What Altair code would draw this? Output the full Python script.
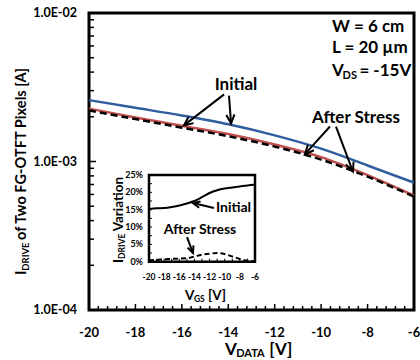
import math
import altair as alt
import pandas as pd

# ---------------- data ----------------
V_DATA = [-20, -18, -16, -14, -12, -10, -8, -6]
I_INITIAL_A = [2.59e-3, 2.30e-3, 2.04e-3, 1.78e-3, 1.50e-3, 1.22e-3, 9.4e-4, 7.2e-4]   # blue
I_INITIAL_B = [2.27e-3, 1.98e-3, 1.74e-3, 1.53e-3, 1.30e-3, 1.07e-3, 8.1e-4, 5.9e-4]   # red
I_STRESS = [2.21e-3, 1.93e-3, 1.69e-3, 1.48e-3, 1.26e-3, 1.03e-3, 7.9e-4, 5.8e-4]      # black dashed

X_TICKS = [-20, -18, -16, -14, -12, -10, -8, -6]
Y_TICKS = [1e-4, 1e-3, 1e-2]
Y_TICK_LABELS = ["1.0E-04", "1.0E-03", "1.0E-02"]
Y_MINOR = [2e-4, 3e-4, 4e-4, 5e-4, 6e-4, 7e-4, 8e-4, 9e-4,
           2e-3, 3e-3, 4e-3, 5e-3, 6e-3, 7e-3, 8e-3, 9e-3]
X_MINOR = [round(-20 + 0.4 * k, 1) for k in range(1, 35) if k % 5 != 0]

INSET_V = [-20, -19, -18, -17, -16, -15, -14, -13, -12, -11, -10, -9, -8, -7, -6]
INSET_INITIAL = [15.2, 15.4, 15.5, 15.8, 16.2, 16.8, 17.5, 18.6, 19.8, 20.6, 21.1, 21.4, 21.7, 22.0, 22.2]
INSET_STRESS = [0.4, 0.5, 0.7, 0.8, 0.9, 1.0, 1.5, 2.0, 2.3, 2.5, 2.2, 1.5, 0.8, 0.3, 0.1]
INSET_X_TICKS = [-20, -18, -16, -14, -12, -10, -8, -6]
INSET_Y_TICKS = [0, 5, 10, 15, 20, 25]
INSET_Y_LABELS = ["0%", "5%", "10%", "15%", "20%", "25%"]

# annotations (tail v, tail y, tip v, tip y) in data units
MAIN_ARROWS = [(-14.18, 2.83e-3, -15.91, 1.75e-3),
               (-13.97, 2.78e-3, -13.88, 1.80e-3),
               (-9.62, 1.72e-3, -10.70, 1.12e-3),
               (-9.36, 1.72e-3, -8.63, 8.56e-4)]
INSET_ARROWS = [(-11.42, 15.5, -14.19, 16.9),
                (-14.98, 7.1, -14.19, 2.5)]

# ---------------- layout ----------------
W, H = 325, 297
FONT = "Lato"
INSET_XR = [60, 166]
INSET_YR = [248.7, 162]

CW = {' ': 226, '-': 306, '.': 267, '=': 498, '%': 729, '[': 325, ']': 325,
      'A': 606, 'D': 630, 'E': 488, 'F': 459, 'G': 637, 'I': 267, 'L': 423, 'O': 676,
      'P': 532, 'R': 563, 'S': 473, 'T': 497, 'V': 591, 'W': 890,
      'a': 494, 'c': 418, 'e': 503, 'f': 316, 'i': 246, 'l': 246, 'm': 813, 'n': 537,
      'o': 537, 'r': 355, 's': 399, 't': 347, 'w': 745, 'x': 480, 'µ': 537}


def tw(s, size, k=1.12):
    return sum(CW.get(c, 507) for c in s) * size / 1000 * k


main_x = alt.Scale(domain=[-20, -6], nice=False, zero=False)
main_y = alt.Scale(type="log", domain=[1e-4, 1e-2], nice=False)
in_x = alt.Scale(domain=[-20, -6], range=INSET_XR, nice=False, zero=False)
in_y = alt.Scale(domain=[0, 25], range=INSET_YR, nice=False, zero=False)


def MX(f):
    return alt.X(f, type="quantitative", scale=main_x, axis=None)


def MY(f):
    return alt.Y(f, type="quantitative", scale=main_y, axis=None)


def IX(f):
    return alt.X(f, type="quantitative", scale=in_x, axis=None)


def IY(f):
    return alt.Y(f, type="quantitative", scale=in_y, axis=None)


def mpx(v):
    return (v + 20) / 14 * W


def mpy(y):
    return (-2 - math.log10(y)) / 2 * H


def ipx(v):
    return INSET_XR[0] + (v + 20) / 14 * (INSET_XR[1] - INSET_XR[0])


def ipy(p):
    return INSET_YR[0] - p / 25 * (INSET_YR[0] - INSET_YR[1])


def ang(x0, y0, x1, y1):
    return math.degrees(math.atan2(x1 - x0, -(y1 - y0))) % 360


def text(x, y, s, size, **kw):
    return alt.Chart(pd.DataFrame({"t": [s]})).mark_text(
        font=FONT, fontWeight="bold", fontSize=size, color="black", **kw
    ).encode(x=x, y=y, text="t:N")


def mdx(v):
    return alt.X(datum=v, scale=main_x, axis=None)


def mdy(y):
    return alt.Y(datum=y, scale=main_y, axis=None)


ARROW = "M -0.9 2 L 0 0 L 0.9 2"

# ---------------- main panel ----------------
lines = []
for vals, color, dash in [(I_INITIAL_A, "#2F5D9E", None), (I_INITIAL_B, "#C0504D", None),
                          (I_STRESS, "black", [7, 4])]:
    kw = dict(color=color, strokeWidth=2.5, interpolate="monotone")
    if dash:
        kw["strokeDash"] = dash
    lines.append(alt.Chart(pd.DataFrame({"v": V_DATA, "i": vals})).mark_line(**kw)
                 .encode(x=MX("v"), y=MY("i")))

ticks = [
    alt.Chart(pd.DataFrame({"y": Y_MINOR})).mark_rule(color="black", strokeWidth=1.5)
    .encode(y=MY("y"), x=alt.value(0), x2=alt.value(5)),
    alt.Chart(pd.DataFrame({"y": Y_TICKS})).mark_rule(color="black", strokeWidth=1.5)
    .encode(y=MY("y"), x=alt.value(0), x2=alt.value(7)),
    alt.Chart(pd.DataFrame({"v": X_MINOR})).mark_rule(color="black", strokeWidth=1.5)
    .encode(x=MX("v"), y=alt.value(H), y2=alt.value(H - 4)),
    alt.Chart(pd.DataFrame({"v": X_TICKS})).mark_rule(color="black", strokeWidth=1.5)
    .encode(x=MX("v"), y=alt.value(H), y2=alt.value(H - 6)),
]

tick_labels = [
    alt.Chart(pd.DataFrame({"v": X_TICKS, "t": [str(v) for v in X_TICKS]}))
    .mark_text(font=FONT, fontWeight="bold", fontSize=13, baseline="alphabetic")
    .encode(x=MX("v"), y=alt.value(H + 27), text="t:N"),
    alt.Chart(pd.DataFrame({"y": Y_TICKS, "t": Y_TICK_LABELS}))
    .mark_text(font=FONT, fontWeight="bold", fontSize=12.5, align="right", baseline="middle")
    .encode(y=MY("y"), x=alt.value(-12), text="t:N"),
]

# axis titles (with subscripts)
xt0 = 136
xb = H + 40
xtitle = [
    text(alt.value(xt0), alt.value(xb), "V", 17, align="left"),
    text(alt.value(xt0 + tw("V", 17)), alt.value(xb + 4), "DATA", 11, align="left"),
    text(alt.value(xt0 + tw("V", 17) + tw("DATA", 11) + tw(" ", 17)),
         alt.value(xb), "[V]", 17, align="left"),
]
yt0 = 262
YF, YS = 14.6, 9.5
ytitle = [
    text(alt.value(-67), alt.value(yt0), "I", YF, align="left", angle=270),
    text(alt.value(-63), alt.value(yt0 - tw("I", YF)), "DRIVE", YS, align="left", angle=270),
    text(alt.value(-67), alt.value(yt0 - tw("I", YF) - tw("DRIVE", YS) - tw(" ", YF)),
         "of Two FG-OTFT Pixels [A]", YF, align="left", angle=270),
]

# arrows main
ma = pd.DataFrame(MAIN_ARROWS, columns=["v0", "y0", "v1", "y1"])
ma["ang"] = [ang(mpx(a), mpy(b), mpx(c), mpy(d)) for a, b, c, d in MAIN_ARROWS]
main_arrows = [
    alt.Chart(ma).mark_rule(color="black", strokeWidth=2)
    .encode(x=MX("v0"), y=MY("y0"), x2="v1", y2="y1"),
    alt.Chart(ma).mark_point(shape=ARROW, filled=False, color="black", strokeWidth=2,
                             size=81, opacity=1)
    .encode(x=MX("v1"), y=MY("y1"), angle=alt.Angle("ang", type="quantitative", scale=None)),
]

# annotation texts main
LX = -9.53
ann = [
    text(mdx(-13.67), mdy(3.25e-3), "Initial", 17, align="center", baseline="middle"),
    text(mdx(-8.50), mdy(1.95e-3), "After Stress", 17, align="center", baseline="middle"),
    text(mdx(LX), mdy(8.11e-3), "W = 6 cm", 17, align="left", baseline="middle"),
    text(mdx(LX), mdy(5.77e-3), "L = 20 µm", 17, align="left", baseline="middle"),
    text(mdx(LX), mdy(4.10e-3), "V", 17, align="left", baseline="middle"),
    text(mdx(LX), mdy(4.10e-3), "DS", 11, align="left", baseline="middle",
         dx=tw("V", 17, 1.05), dy=5),
    text(mdx(LX), mdy(4.10e-3), "= -15V", 17, align="left", baseline="middle",
         dx=tw("V", 17, 1.05) + tw("DS", 11, 1.05) + tw(" ", 17, 1.05)),
]

main = alt.layer(*lines, *ticks, *tick_labels, *xtitle, *ytitle, *main_arrows, *ann)

# ---------------- inset ----------------
frame = alt.Chart(pd.DataFrame({"a": [INSET_X_TICKS[0]], "b": [INSET_X_TICKS[-1]],
                                "c": [INSET_Y_TICKS[0]], "d": [INSET_Y_TICKS[-1]]})) \
    .mark_rect(fill="white", stroke="black", strokeWidth=2.5) \
    .encode(x=IX("a"), x2="b", y=IY("c"), y2="d")

in_lines = [
    alt.Chart(pd.DataFrame({"v": INSET_V, "p": INSET_INITIAL}))
    .mark_line(color="black", strokeWidth=2, interpolate="monotone")
    .encode(x=IX("v"), y=IY("p")),
    alt.Chart(pd.DataFrame({"v": INSET_V, "p": INSET_STRESS}))
    .mark_line(color="black", strokeWidth=2, strokeDash=[5, 3], interpolate="monotone")
    .encode(x=IX("v"), y=IY("p")),
]

in_ticks = [
    alt.Chart(pd.DataFrame({"v": INSET_V[1:-1]})).mark_rule(color="black", strokeWidth=1)
    .encode(x=IX("v"), y=alt.value(INSET_YR[0]), y2=alt.value(INSET_YR[0] - 3)),
    alt.Chart(pd.DataFrame({"p": [2.5, 5, 7.5, 10, 12.5, 15, 17.5, 20, 22.5]}))
    .mark_rule(color="black", strokeWidth=1)
    .encode(y=IY("p"), x=alt.value(INSET_XR[0]), x2=alt.value(INSET_XR[0] + 3)),
]

in_labels = [
    alt.Chart(pd.DataFrame({"v": INSET_X_TICKS, "t": [str(v) for v in INSET_X_TICKS]}))
    .mark_text(font=FONT, fontWeight="bold", fontSize=8.5, baseline="alphabetic")
    .encode(x=IX("v"), y=alt.value(267), text="t:N"),
    alt.Chart(pd.DataFrame({"p": INSET_Y_TICKS, "t": INSET_Y_LABELS}))
    .mark_text(font=FONT, fontWeight="bold", fontSize=9, align="right", baseline="middle")
    .encode(y=IY("p"), x=alt.value(54), text="t:N"),
]

ixt0 = 96
IF, IS = 13.5, 8.5
in_titles = [
    text(alt.value(ixt0), alt.value(283), "V", IF, align="left"),
    text(alt.value(ixt0 + tw("V", IF)), alt.value(286), "GS", IS, align="left"),
    text(alt.value(ixt0 + tw("V", IF) + tw("GS", IS) + tw(" ", IF)), alt.value(283), "[V]", IF,
         align="left"),
    text(alt.value(30), alt.value(250), "I", IF, align="left", angle=270),
    text(alt.value(33), alt.value(250 - tw("I", IF)), "DRIVE", IS, align="left", angle=270),
    text(alt.value(30), alt.value(250 - tw("I", IF) - tw("DRIVE", IS) - tw(" ", IF)), "Variation",
         IF, align="left", angle=270),
]

ia = pd.DataFrame(INSET_ARROWS, columns=["v0", "p0", "v1", "p1"])
ia["ang"] = [ang(ipx(a), ipy(b), ipx(c), ipy(d)) for a, b, c, d in INSET_ARROWS]
in_arrows = [
    alt.Chart(ia).mark_rule(color="black", strokeWidth=2)
    .encode(x=IX("v0"), y=IY("p0"), x2="v1", y2="p1"),
    alt.Chart(ia).mark_point(shape=ARROW, filled=False, color="black", strokeWidth=2,
                             size=49, opacity=1)
    .encode(x=IX("v1"), y=IY("p1"), angle=alt.Angle("ang", type="quantitative", scale=None)),
]

in_ann = [
    text(alt.X(datum=-11.15, scale=in_x, axis=None), alt.Y(datum=15.4, scale=in_y, axis=None),
         "Initial", 14, align="left", baseline="middle"),
    text(alt.X(datum=-13.26, scale=in_x, axis=None), alt.Y(datum=9.1, scale=in_y, axis=None),
         "After Stress", 14, align="center", baseline="middle"),
]

inset = alt.layer(frame, *in_ticks, *in_lines, *in_labels, *in_titles, *in_arrows, *in_ann)

chart = alt.layer(main, inset).resolve_scale(x="independent", y="independent").properties(
    width=W, height=H, autosize="none",
    padding={"left": 89, "top": 13, "right": 6, "bottom": 50},
    background="white",
).configure_view(stroke="black", strokeWidth=3)

chart.save("out.html", embed_options={"renderer": "svg", "actions": False})
